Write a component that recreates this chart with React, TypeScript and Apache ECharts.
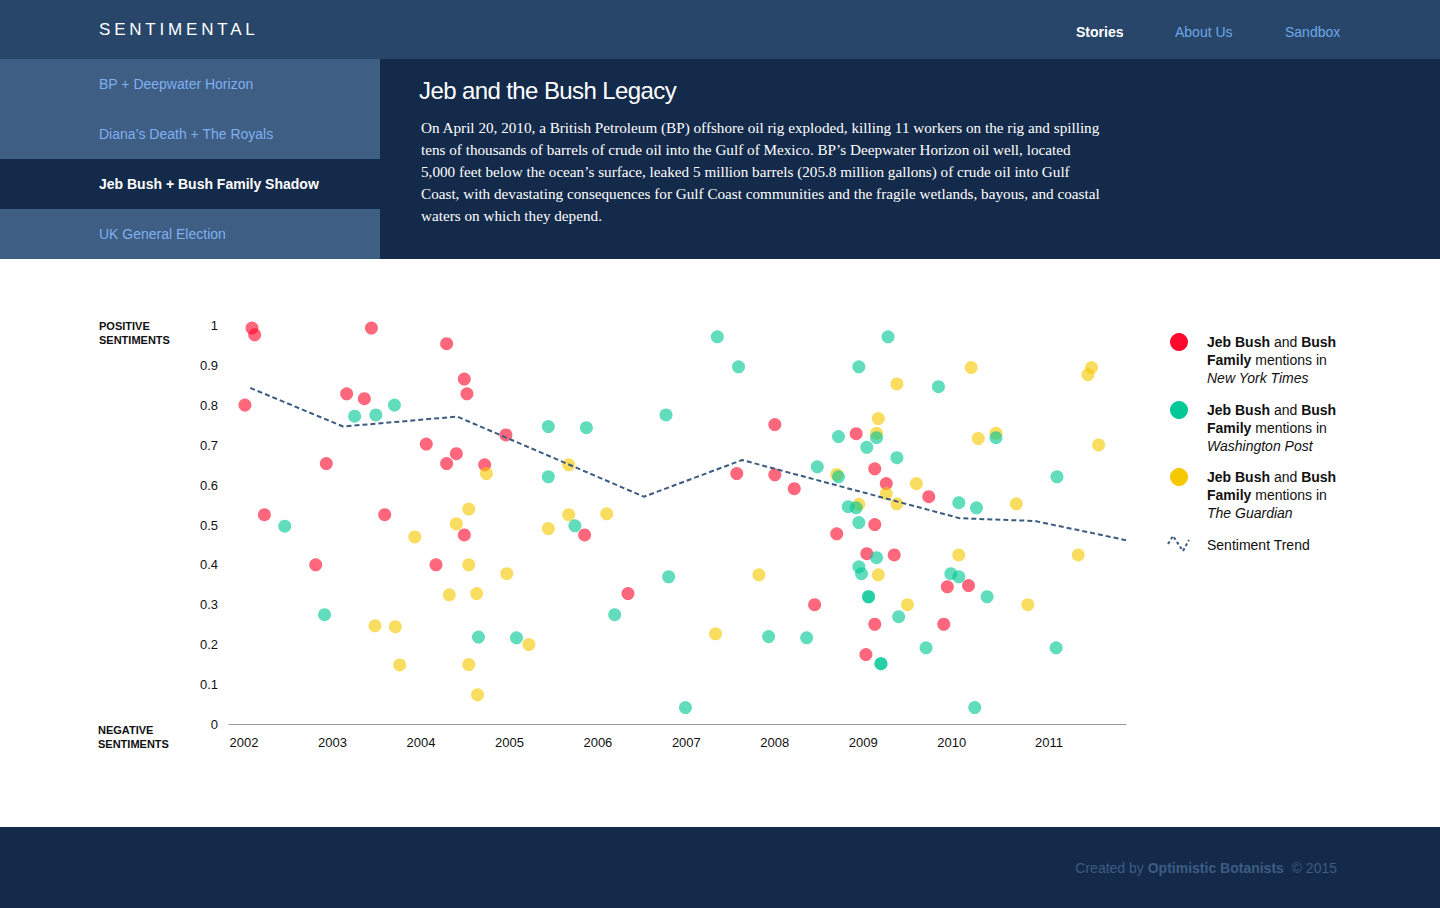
import React, { useEffect, useRef } from "react";
import * as echarts from "echarts";

const FONT = '"Liberation Sans", Arial, Helvetica, sans-serif';

const yearLabels = ["2002", "2003", "2004", "2005", "2006", "2007", "2008", "2009", "2010", "2011"];
const yearTickPositions = [2002, 2003, 2004, 2005, 2006, 2007, 2008, 2009, 2010, 2011.1];

const nytPoints: [number, number][] = [
  [2002.09, 0.994], [2002.12, 0.977], [2003.44, 0.994], [2002.01, 0.801], [2003.16, 0.829],
  [2003.36, 0.817], [2004.06, 0.703], [2002.93, 0.654], [2002.23, 0.526], [2003.59, 0.526],
  [2002.81, 0.4], [2004.17, 0.4], [2004.29, 0.955], [2004.49, 0.866], [2004.52, 0.829],
  [2004.4, 0.679], [2004.29, 0.654], [2004.72, 0.651], [2004.96, 0.726], [2004.49, 0.475],
  [2005.85, 0.475], [2006.34, 0.328], [2007.57, 0.629], [2008.0, 0.752], [2008.0, 0.626],
  [2008.22, 0.591], [2008.92, 0.729], [2009.13, 0.641], [2009.26, 0.604], [2009.74, 0.571],
  [2008.7, 0.478], [2009.13, 0.501], [2009.04, 0.428], [2009.35, 0.425], [2009.95, 0.345],
  [2010.19, 0.348], [2008.45, 0.3], [2009.13, 0.251], [2009.91, 0.251], [2009.03, 0.175],
];

const wapoPoints: [number, number][] = [
  [2003.25, 0.773], [2003.49, 0.776], [2003.7, 0.801], [2002.46, 0.497], [2002.91, 0.275],
  [2005.44, 0.747], [2005.87, 0.744], [2005.44, 0.621], [2006.77, 0.776], [2007.35, 0.972],
  [2007.59, 0.897], [2005.74, 0.498], [2006.8, 0.37], [2006.19, 0.275], [2004.65, 0.219],
  [2005.08, 0.217], [2006.99, 0.042], [2009.28, 0.972], [2008.95, 0.897], [2009.85, 0.847],
  [2008.72, 0.722], [2009.15, 0.719], [2009.04, 0.695], [2009.38, 0.669], [2008.48, 0.646],
  [2008.72, 0.621], [2008.83, 0.546], [2008.92, 0.543], [2008.95, 0.506], [2010.08, 0.556],
  [2010.28, 0.543], [2009.15, 0.418], [2008.95, 0.395], [2008.98, 0.378], [2009.99, 0.378],
  [2010.08, 0.37], [2010.4, 0.32], [2009.06, 0.32], [2009.06, 0.32], [2009.4, 0.27],
  [2007.93, 0.22], [2008.36, 0.217], [2009.71, 0.192], [2009.2, 0.152], [2009.2, 0.152],
  [2010.26, 0.042], [2010.5, 0.719], [2011.19, 0.621], [2011.18, 0.192],
];

const guardianPoints: [number, number][] = [
  [2003.93, 0.47], [2003.48, 0.247], [2003.71, 0.245], [2003.76, 0.149], [2004.74, 0.629],
  [2005.67, 0.651], [2004.54, 0.54], [2004.4, 0.503], [2005.67, 0.526], [2006.1, 0.528],
  [2005.44, 0.491], [2004.54, 0.4], [2004.97, 0.378], [2004.32, 0.325], [2004.63, 0.328],
  [2005.22, 0.2], [2004.54, 0.15], [2004.64, 0.074], [2007.33, 0.227], [2007.82, 0.375],
  [2009.38, 0.854], [2010.22, 0.895], [2009.17, 0.767], [2009.15, 0.73], [2010.3, 0.717],
  [2008.7, 0.627], [2009.6, 0.604], [2009.26, 0.579], [2009.38, 0.553], [2008.95, 0.552],
  [2010.08, 0.425], [2009.17, 0.375], [2009.5, 0.3], [2010.5, 0.73], [2010.73, 0.553],
  [2010.86, 0.3], [2011.43, 0.425], [2011.58, 0.895], [2011.54, 0.877], [2011.66, 0.701],
];

const trendPoints: [number, number][] = [
  [2002.07, 0.844], [2003.12, 0.747], [2004.41, 0.772], [2006.52, 0.571], [2007.63, 0.663],
  [2010.09, 0.517], [2010.94, 0.51], [2011.97, 0.462],
];

const sidebarItems = ["BP + Deepwater Horizon", "Diana’s Death + The Royals", "Jeb Bush + Bush Family Shadow", "UK General Election"];
const activeItem = 2;
const navItems = ["Stories", "About Us", "Sandbox"];
const navLefts = [1076, 1175, 1285];

const paragraphLines = [
  "On April 20, 2010, a British Petroleum (BP) offshore oil rig exploded, killing 11 workers on the rig and spilling",
  "tens of thousands of barrels of crude oil into the Gulf of Mexico. BP’s Deepwater Horizon oil well, located",
  "5,000 feet below the ocean’s surface, leaked 5 million barrels (205.8 million gallons) of crude oil into Gulf",
  "Coast, with devastating consequences for Gulf Coast communities and the fragile wetlands, bayous, and coastal",
  "waters on which they depend.",
];

const RED = "#ff0a2c";
const GREEN = "#00c896";
const YELLOW = "#f5c800";
const TREND = "#3d5a80";

function Chart() {
  const ref = useRef<HTMLDivElement>(null);
  useEffect(() => {
    const el = ref.current!;
    const chart = echarts.init(el, null, { renderer: "svg" });
    const legendText = (paper: string) =>
      `{b|Jeb Bush}{n| and }{b|Bush}\n{b|Family}{n| mentions in}\n{i|${paper}}`;
    const rich = {
      b: { fontFamily: FONT, fontSize: 14, fontWeight: "bold", lineHeight: 18, color: "#111" },
      n: { fontFamily: FONT, fontSize: 14, lineHeight: 18, color: "#111" },
      i: { fontFamily: FONT, fontSize: 14, fontStyle: "italic", lineHeight: 18, color: "#111" },
    };
    const legendEntries = [
      { color: RED, paper: "New York Times", y: 83 },
      { color: GREEN, paper: "Washington Post", y: 151 },
      { color: YELLOW, paper: "The Guardian", y: 218 },
    ];
    const graphic: any[] = [
      {
        type: "text", left: 99, top: 60,
        style: { text: "POSITIVE\nSENTIMENTS", font: `bold 11px ${FONT}`, lineHeight: 14, fill: "#111" },
      },
      {
        type: "text", left: 98, top: 464,
        style: { text: "NEGATIVE\nSENTIMENTS", font: `bold 11px ${FONT}`, lineHeight: 14, fill: "#111" },
      },
    ];
    legendEntries.forEach((e) => {
      graphic.push({ type: "circle", shape: { cx: 1179, cy: e.y, r: 9 }, style: { fill: e.color } });
      graphic.push({
        type: "text", x: 1207, y: e.y - 9,
        style: { text: legendText(e.paper), rich, fill: "#111", verticalAlign: "top" },
      });
    });
    graphic.push({
      type: "polyline",
      shape: { points: [[1168, 285], [1173, 277], [1183, 292], [1189, 281]] },
      style: { stroke: TREND, lineWidth: 2, lineDash: [3, 2.5], fill: null },
    });
    graphic.push({
      type: "text", x: 1207, y: 286,
      style: { text: "Sentiment Trend", font: `14px ${FONT}`, fill: "#111", verticalAlign: "middle" },
    });

    const scatter = (name: string, data: [number, number][], color: string) => ({
      name, type: "scatter", data, symbolSize: 13, silent: true,
      itemStyle: { color, opacity: 0.62 },
    });

    chart.setOption({
      animation: false,
      grid: { left: 229, right: 314, top: 66.7, bottom: 102.7 },
      xAxis: {
        type: "value", min: 2001.83, max: 2011.97,
        axisLine: { show: true, lineStyle: { color: "#999", width: 1 } },
        axisTick: { show: false },
        splitLine: { show: false },
        axisLabel: {
          customValues: yearTickPositions,
          formatter: (v: number) => {
            let best = 0;
            yearTickPositions.forEach((p, i) => {
              if (Math.abs(p - v) < Math.abs(yearTickPositions[best] - v)) best = i;
            });
            return yearLabels[best];
          },
          color: "#111", fontSize: 13, fontFamily: FONT, margin: 12,
        },
      },
      yAxis: {
        type: "value", min: 0, max: 1, interval: 0.1,
        axisLine: { show: false }, axisTick: { show: false }, splitLine: { show: false },
        axisLabel: { color: "#111", fontSize: 13, fontFamily: FONT, margin: 11 },
      },
      series: [
        scatter("New York Times", nytPoints, RED),
        scatter("The Guardian", guardianPoints, YELLOW),
        scatter("Washington Post", wapoPoints, GREEN),
        {
          name: "Sentiment Trend", type: "line", data: trendPoints, showSymbol: false, silent: true,
          lineStyle: { color: TREND, width: 2, type: [5, 3] },
        },
      ],
      graphic,
    });
    return () => chart.dispose();
  }, []);
  return <div ref={ref} style={{ position: "absolute", left: 0, top: 259, width: 1440, height: 568 }} />;
}

export default function App() {
  return (
    <div style={{ position: "absolute", left: 0, top: 0, width: 1440, height: 908, overflow: "hidden", background: "#fff", fontFamily: FONT }}>
      <div style={{ position: "absolute", left: 0, top: 0, width: 1440, height: 59, background: "#27466a" }}>
        <div style={{ position: "absolute", left: 99, top: 20, fontSize: 17, lineHeight: "20px", letterSpacing: "3.8px", color: "#fff" }}>SENTIMENTAL</div>
        {navItems.map((n, i) => (
          <div key={n} style={{ position: "absolute", left: navLefts[i], top: 23, fontSize: 14, lineHeight: "18px", color: i === 0 ? "#fff" : "#6fa6e6", fontWeight: i === 0 ? "bold" : "normal" }}>{n}</div>
        ))}
      </div>
      {sidebarItems.map((s, i) => (
        <div key={s} style={{ position: "absolute", left: 0, top: 59 + i * 50, width: 380, height: 50, background: i === activeItem ? "#142a4a" : "#3e5e83" }}>
          <div style={{ position: "absolute", left: 99, top: 16, fontSize: 14, lineHeight: "18px", color: i === activeItem ? "#fff" : "#7fb0f0", fontWeight: i === activeItem ? "bold" : "normal" }}>{s}</div>
        </div>
      ))}
      <div style={{ position: "absolute", left: 380, top: 59, width: 1060, height: 200, background: "#142a4a" }}>
        <div style={{ position: "absolute", left: 39, top: 18, fontSize: 24, lineHeight: "28px", letterSpacing: "-0.6px", color: "#fff" }}>Jeb and the Bush Legacy</div>
        <div style={{ position: "absolute", left: 41, top: 58, fontFamily: '"Liberation Serif", "Times New Roman", serif', fontSize: 15.2, lineHeight: "22px", color: "#fff", whiteSpace: "nowrap" }}>
          {paragraphLines.map((l) => (
            <div key={l}>{l}</div>
          ))}
        </div>
      </div>
      <Chart />
      <div style={{ position: "absolute", left: 0, top: 827, width: 1440, height: 81, background: "#142a4a" }}>
        <div style={{ position: "absolute", right: 103, top: 32, fontSize: 14, lineHeight: "18px", color: "#3c5c83", whiteSpace: "pre" }}>
          Created by <b>Optimistic Botanists</b>  © 2015
        </div>
      </div>
    </div>
  );
}
